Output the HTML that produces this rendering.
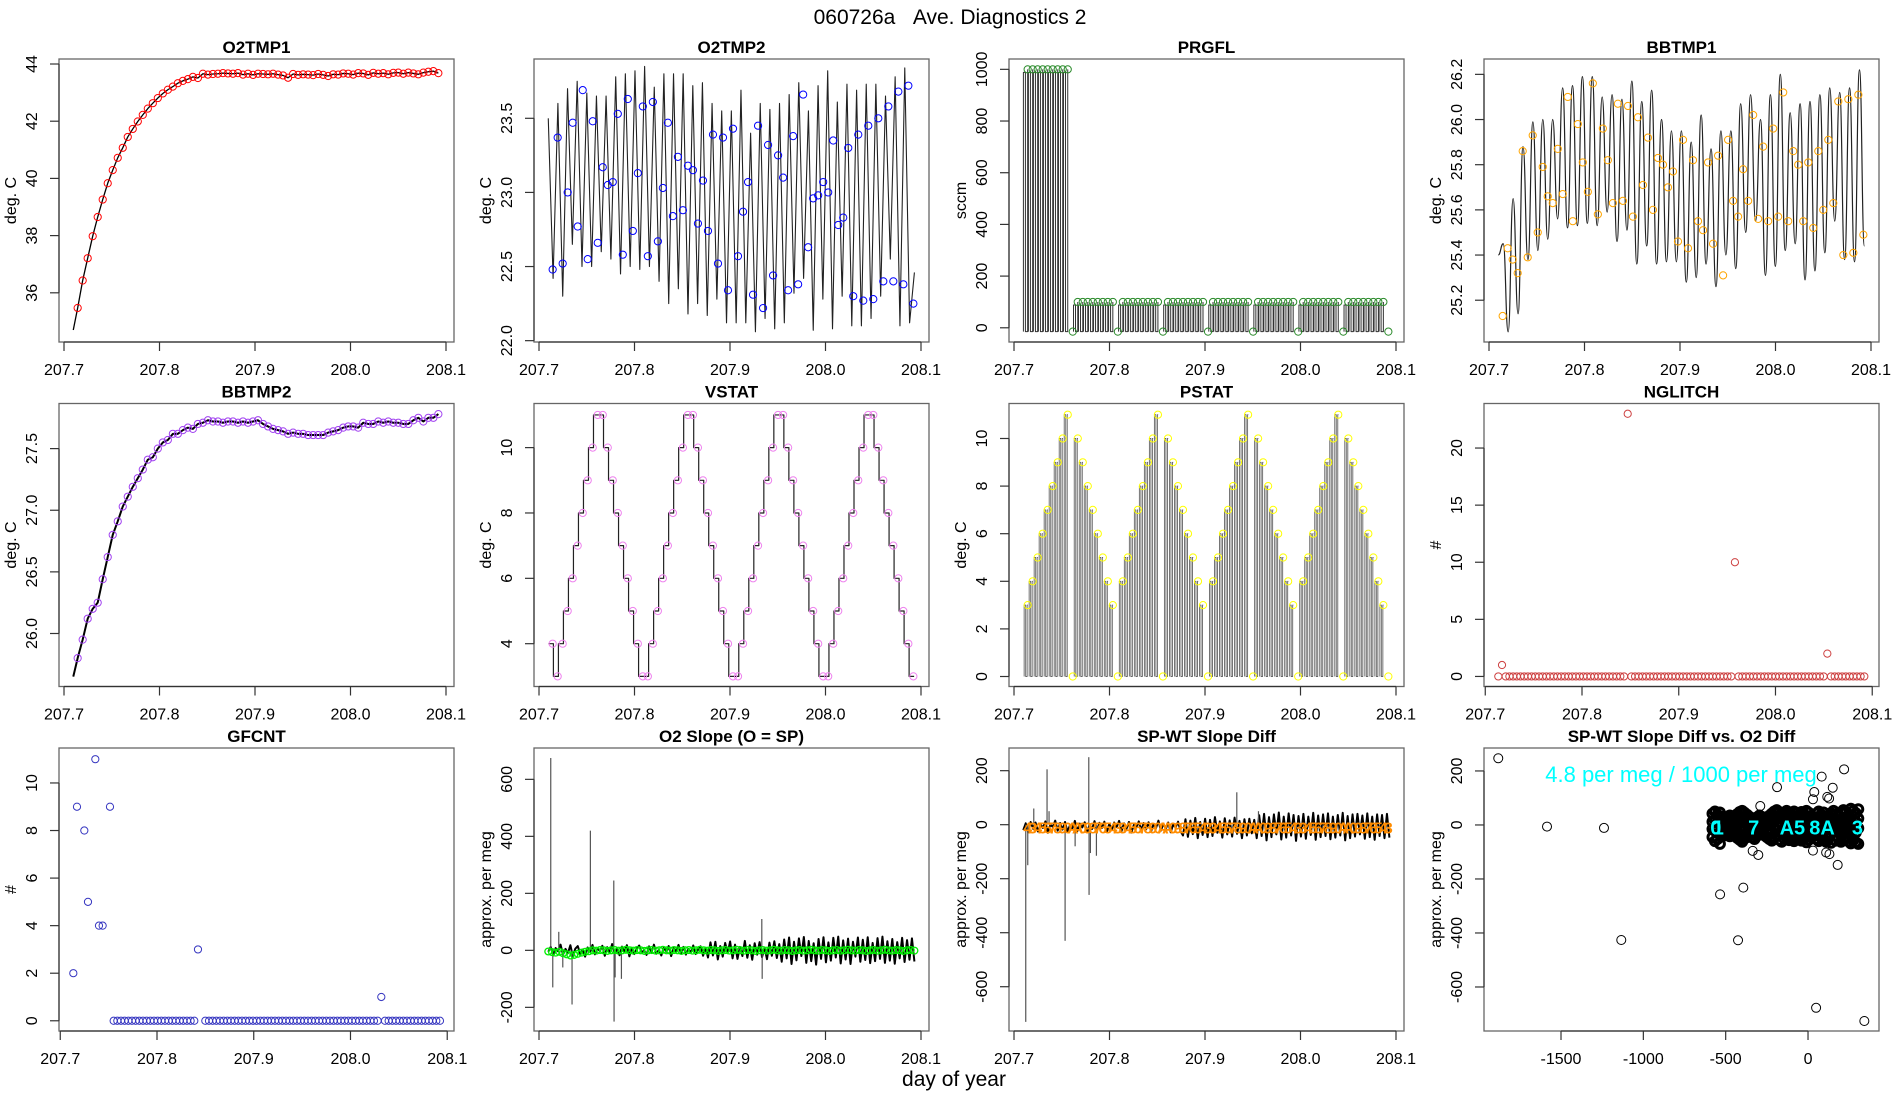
<!DOCTYPE html>
<html><head><meta charset="utf-8"><title>060726a Ave. Diagnostics 2</title>
<style>
html,body{margin:0;padding:0;background:#fff;}
svg{display:block;font-family:"Liberation Sans",Arial,sans-serif;}
</style></head>
<body>
<svg id="chart" xmlns="http://www.w3.org/2000/svg" width="1900" height="1100" viewBox="0 0 1900 1100">
<rect x="0" y="0" width="1900" height="1100" fill="#fff"/>
<text x="950" y="24" text-anchor="middle" font-size="21">060726a &#160;&#160;Ave. Diagnostics 2</text>
<text x="954" y="1086" text-anchor="middle" font-size="21">day of year</text>
</svg>
<script>
// ---- data ----
const T0 = 207.7143, DT = 0.005246;
const lineStart = [207.7097], lineEnd = [208.0931];
const dayTicks = [207.7, 207.8, 207.9, 208.0, 208.1];

const o2tmp1Vals = [35.47,36.43,37.21,37.98,38.65,39.26,39.83,40.29,40.72,41.07,41.45,41.73,41.99,42.22,42.44,42.63,42.81,42.97,43.10,43.21,43.33,43.41,43.47,43.55,43.51,43.66,
43.63,43.65,43.66,43.68,43.67,43.66,43.68,43.63,43.66,43.62,43.66,43.65,43.64,43.66,43.63,43.60,43.52,43.65,43.62,43.64,43.63,43.61,43.65,43.62,43.58,43.64,43.63,43.67,43.66,43.63,43.68,43.67,43.62,43.69,43.66,43.68,43.64,43.69,43.70,43.66,43.70,43.67,43.64,43.70,43.73,43.75,43.68];
const o2tmp1StartVal = [34.7];
const o2tmp1Ticks = [36,38,40,42,44];

const o2tmp2Vals = [22.48,23.37,22.52,23.0,23.47,22.77,23.69,22.55,23.48,22.66,23.17,23.05,23.07,23.53,22.58,23.63,22.74,23.13,23.58,22.57,
23.61,22.67,23.03,23.47,22.84,23.24,22.88,23.18,23.15,22.79,23.08,22.74,23.39,22.52,23.37,22.34,23.43,22.57,22.87,23.07,
22.31,23.45,22.22,23.32,22.44,23.25,23.10,22.34,23.38,22.38,23.66,22.63,22.96,22.98,23.07,23.0,23.35,22.78,22.83,23.30,
22.30,23.39,22.27,23.45,22.28,23.5,22.40,23.58,22.40,23.68,22.38,23.72,22.25];
const o2tmp2Line = [23.5,22.42,23.6,22.3,23.7,22.65,23.75,22.5,23.67,22.5,23.65,22.6,23.65,22.55,23.78,22.45,23.8,22.5,23.82,22.48,23.85,22.5,23.71,22.4,23.8,22.25,23.8,22.35,23.8,22.18,23.72,22.25,23.74,22.17,23.6,22.28,23.55,22.12,23.55,22.12,23.69,22.12,23.40,22.06,23.6,22.15,23.56,22.08,23.6,22.12,23.66,22.32,23.74,22.42,23.55,22.07,23.72,22.28,23.82,22.08,23.61,22.3,23.73,22.1,23.69,22.1,23.73,22.15,23.73,22.3,23.65,22.55,23.78,22.1,23.84,22.12,22.46];
const o2tmp2Ticks = [22.0,22.5,23.0,23.5];

const prgflVals = [1000,1000,1000,1000,1000,1000,1000,1000,1000,-15,
100,100,100,100,100,100,100,100,-15,100,100,100,100,100,100,100,100,-15,100,100,100,100,100,100,100,100,-15,
100,100,100,100,100,100,100,100,-15,100,100,100,100,100,100,100,100,-15,100,100,100,100,100,100,100,100,-15,
100,100,100,100,100,100,100,100,-15];
const prgflTicks = [0,200,400,600,800,1000];

const bbtmp1Vals = [25.13,25.43,25.38,25.32,25.86,25.39,25.93,25.50,25.79,25.66,25.63,25.87,25.67,26.10,25.55,25.98,25.81,25.68,26.16,25.58,
25.96,25.82,25.63,26.07,25.64,26.06,25.57,26.01,25.71,25.92,25.60,25.83,25.80,25.70,25.77,25.46,25.91,25.43,25.82,25.55,
25.51,25.81,25.45,25.84,25.31,25.91,25.64,25.57,25.78,25.64,26.02,25.56,25.88,25.55,25.96,25.57,26.12,25.55,25.86,25.80,
25.55,25.81,25.52,25.86,25.60,25.91,25.63,26.08,25.40,26.09,25.41,26.11,25.49];
const bbtmp1Line = [25.40,25.45,25.06,25.65,25.14,25.88,25.38,25.99,25.42,26.00,25.47,26.00,25.56,26.14,25.52,26.15,25.53,26.19,25.54,26.19,25.53,26.10,25.59,26.11,25.46,26.09,25.51,26.17,25.36,26.08,25.44,26.13,25.36,26.00,25.37,25.95,25.37,25.95,25.28,25.90,25.30,26.02,25.36,25.87,25.26,25.95,25.40,25.95,25.34,26.07,25.50,26.11,25.55,26.00,25.31,26.11,25.35,26.20,25.42,26.03,25.45,26.07,25.29,26.08,25.33,26.11,25.41,26.14,25.55,26.12,25.38,26.14,25.37,26.22,25.44];
const bbtmp1Ticks = [25.2,25.4,25.6,25.8,26.0,26.2];

const bbtmp2Vals = [25.80,25.95,26.12,26.20,26.25,26.44,26.62,26.80,26.91,27.03,27.11,27.19,27.26,27.33,27.41,27.43,27.50,27.55,27.57,27.62,
27.62,27.65,27.67,27.66,27.70,27.71,27.73,27.72,27.72,27.71,27.72,27.72,27.71,27.72,27.71,27.72,27.73,27.70,27.68,27.66,
27.65,27.64,27.62,27.63,27.62,27.62,27.61,27.61,27.61,27.61,27.63,27.64,27.65,27.67,27.68,27.68,27.67,27.71,27.70,27.70,
27.72,27.71,27.72,27.71,27.71,27.70,27.70,27.73,27.75,27.72,27.75,27.75,27.78];
const bbtmp2StartVal = [25.65];
const bbtmp2Ticks = [26.0,26.5,27.0,27.5];

const vstatVals = [4,3,4,5,6,7,8,9,10,11,11,10,9,8,7,6,5,4,3,3,4,5,6,7,8,9,10,11,11,10,9,8,7,6,5,4,3,3,
4,5,6,7,8,9,10,11,11,10,9,8,7,6,5,4,3,3,4,5,6,7,8,9,10,11,11,10,9,8,7,6,5,4,3];
const vstatTicks = [4,6,8,10];

const pstatVals = [3,4,5,6,7,8,9,10,11,0,10,9,8,7,6,5,4,3,0,4,5,6,7,8,9,10,11,0,10,9,8,7,6,5,4,3,0,
4,5,6,7,8,9,10,11,0,10,9,8,7,6,5,4,3,0,4,5,6,7,8,9,10,11,0,10,9,8,7,6,5,4,3,0];
const pstatTicks = [0,2,4,6,8,10];

const nglitchStart = [207.7135], nglitchEnd = [208.0918];
const nglitchVals = [0,1,0,0,0,0,0,0,0,0,0,0,0,0,0,0,0,0,0,0,0,0,0,0,0,0,0,0,0,0,0,0,0,0,0,23,
0,0,0,0,0,0,0,0,0,0,0,0,0,0,0,0,0,0,0,0,0,0,0,0,0,0,0,0,10,
0,0,0,0,0,0,0,0,0,0,0,0,0,0,0,0,0,0,0,0,0,0,0,0,2,0,0,0,0,0,0,0,0,0,0];
const nglitchTicks = [0,5,10,15,20];

const gfcntStart = [207.7135], gfcntEnd = [208.0925];
const gfcntVals = [2,9,null,8,5,null,11,4,4,null,9,
0,0,0,0,0,0,0,0,0,0,0,0,0,0,0,0,0,0,0,0,0,0,0,3,null,
0,0,0,0,0,0,0,0,0,0,0,0,0,0,0,0,0,0,0,0,0,0,0,0,0,0,0,0,0,0,0,0,0,0,0,0,0,0,0,0,0,0,0,0,0,0,0,0,1,
0,0,0,0,0,0,0,0,0,0,0,0,0,0,0,0];
const gfcntTicks = [0,2,4,6,8,10];

const o2slopeNoise = [-5,12,-18,8,-3,20,-15,5,-10,18,-20,6,15,-12,3,-22,10,-6,19,-14,7,-2,16,-19,11,-8,22,-11,4,-17,13,-4,18,-21,9,-13,6,17,-9,1,-16,14,-7,20,-12,2,-18,10,-5,15,-20,8,-3,19,-10,12,-15,5,-8,17,-13,3,14,-19,9,
-25,28,-18,30,-32,15,-22,26,-10,31,-28,20,-30,12,-20,33,-26,18,-33,25,-15,29,-24,10,-31,27,-19,32,-27,22,
-40,38,-28,45,-48,30,-35,42,-20,47,-44,33,-38,25,-50,40,-30,46,-42,28,-36,44,-25,48,-46,35,-32,41,-48,30,-22,45,-40,37,-34,46,-45,26,-38,43,-30,48,-44,32,-36,40,-47,29,-28,44,-41,36,-33,42,-39];
const o2slopeSpikeDays = [207.7123,207.7144,207.7207,207.7249,207.7346,207.7538,207.7783,207.7786,207.7797,207.7863,207.9333,207.9337];
const o2slopeSpikeVals = [675,-130,65,-60,-190,420,245,-250,-95,-100,110,-100];
const o2slopePts = [-4,-6,-8,-5,-10,-14,-18,-16,-12,-8,-5,-3,
0,-1,1,0,-2,0,1,-1,0,2,0,-1,1,0,-2,0,1,-1,0,2,0,-1,1,0,-2,0,1,-1,0,2,0,-1,1,0,-2,0,1,-1,0,2,
0,-1,1,0,-2,0,1,-1,0,2,0,-1,1,0,-2,0,1,-1,0,2,0,-1,1,0,-2,0,1,-1,0,2,0,-1,1,0,-2,0,1,-1,0,2,0,-1,1,0,-2,0,1,-1];
const o2slopeTicks = [-200,0,200,400,600];

const spwtNoise = [-20,5,-28,10,-15,8,-25,2,-12,12,-30,0,-8,15,-22,6,-18,10,-26,-2,-14,14,-24,4,-10,9,-28,1,-16,13,-21,7,-12,11,-27,3,-19,8,-9,14,-23,5,-15,10,-29,-1,-11,12,-20,6,-17,9,-25,2,-13,15,-22,4,-16,8,-28,0,-10,11,-24,
-40,20,-45,15,-35,25,-50,10,-38,22,-46,18,-42,28,-30,12,-48,24,-36,16,-44,26,-34,14,-50,20,-40,22,-32,18,
-50,35,-42,40,-58,28,-46,38,-36,45,-55,30,-48,42,-40,36,-60,32,-44,40,-52,30,-38,44,-56,34,-46,38,-42,42,-54,30,-48,36,-40,44,-58,32,-50,38,-44,40,-36,34,-52,42,-46,30,-56,38,-42,36,-50,40,-48];
const spwtSpikeDays = [207.7123,207.7144,207.7207,207.7346,207.7367,207.7535,207.7640,207.7783,207.7786,207.7800,207.7863,207.9333,207.9560];
const spwtSpikeVals = [-730,-150,60,205,50,-430,-80,250,-260,-105,-115,120,50];
const spwtLabels = ['4','3','4','5','6','7','8','9','0','A','A','0','9','8','7','6','5','4','3','3','4','5','6','7','8','9','0','A','A','0','9','8','7','6','5','4','3','3',
'4','5','6','7','8','9','0','A','A','0','9','8','7','6','5','4','3','3','4','5','6','7','8','9','0','A','A','0','9','8','7','6','5','4','3'];
const spwtLabelVal = [-10];
const spwtTicks = [-600,-400,-200,0,200];

const clusterX = [-580,-565,-550,-535,-520,-505,-490,-475,-460,-445,-430,-415,-400,-385,-370,-355,-340,-325,-310,-295,-280,-265,-250,-235,-220,-205,-190,-175,-160,-145,-130,-115,-100,-85,-70,-55,-40,-25,-10,5,20,35,50,65,80,95,110,125,140,155,170,185,200,215,230,245,260,275,290,305];
const clusterY1 = [42,50,38,46,30,25,28,35,22,30,40,48,52,45,38,30,25,20,28,35,30,22,26,34,42,50,55,48,40,44,52,46,38,50,44,36,48,40,52,45,34,28,42,50,38,46,30,36,44,52,40,34,46,55,48,38,60,52,44,58];
const clusterY2 = [12,20,8,15,5,10,18,3,12,8,15,22,10,18,5,14,20,8,12,16,4,10,18,22,6,14,20,10,24,16,8,18,12,22,6,14,20,10,16,24,8,12,18,6,20,14,10,22,16,4,18,12,20,8,14,22,10,18,12,24];
const clusterY3 = [-15,-22,-8,-28,-12,-18,-5,-20,-14,-10,-25,-16,-8,-22,-30,-12,-18,-26,-10,-20,-14,-6,-24,-16,-28,-12,-20,-8,-22,-15,-26,-10,-18,-24,-12,-20,-28,-16,-8,-22,-14,-26,-10,-18,-24,-12,-20,-30,-16,-8,-22,-14,-26,-18,-10,-24,-16,-20,-28,-12];
const clusterY4 = [-45,-60,-52,-70,-40,-38,-35,-42,-30,-36,-48,-55,-62,-50,-44,-38,-46,-52,-40,-36,-32,-38,-45,-52,-58,-48,-40,-55,-62,-50,-44,-56,-48,-60,-52,-45,-58,-50,-64,-55,-46,-40,-52,-60,-48,-56,-62,-50,-66,-54,-58,-46,-62,-55,-50,-60,-68,-56,-64,-70];
const outlierX = [-1881,-1585,-1239,-1134,-534,-393,-425,49,342,219,83,-188,150,38,30,117,128,-290,-336,-302,180,110,130,30];
const outlierY = [247,-6,-11,-426,-257,-232,-427,-677,-726,206,179,140,138,122,95,104,98,70,-96,-111,-148,-102,-108,-95];
const cyanLabels = ['0','1','7','A5','8A','3'];
const cyanLabelX = [-560,-545,-330,-95,85,300];
const cyanLabelY = [-10,-10,-10,-10,-10,-10];
const scatterXTicks = [-1500,-1000,-500,0];
const scatterYTicks = [-600,-400,-200,0,200];

// ---- drawing ----
const NS = 'http://www.w3.org/2000/svg';
const svg = document.getElementById('chart');
function mk(tag, parent) { const e = document.createElementNS(NS, tag); (parent || svg).appendChild(e); return e; }
function setA(e, o) { for (const k in o) e.setAttribute(k, o[k]); }
const DOM_A = [207.69476, 208.10838], DOM_B = [207.6987, 208.1070];
const W = 395, H = 283;
function tday(i) { return T0 + i * DT; }
function spread(a, b, n, i) { return a + (b - a) * i / (n - 1); }

function panel(col, row, name, title, ylab, xd, yd, xticks, yticks, xfmt, yfmt) {
  const bx = 59 + 475 * col, by = [59, 403.5, 748][row];
  const g = mk('g');
  
  
  const X = v => bx + (v - xd[0]) / (xd[1] - xd[0]) * W;
  const Y = v => by + (yd[1] - v) / (yd[1] - yd[0]) * H;
  const box = mk('rect', g);
  setA(box, {x: bx, y: by, width: W, height: H, fill: 'none', stroke: '#666', 'stroke-width': 1.3});
  
  
  const t = mk('text', g);
  setA(t, {x: bx + W / 2, y: by - 6, 'text-anchor': 'middle', 'font-size': 17, 'font-weight': 'bold'});
  t.textContent = title;
  
  
  const yl = mk('text', g);
  setA(yl, {transform: `translate(${bx - 43},${by + H / 2}) rotate(-90)`, 'text-anchor': 'middle', 'font-size': 16});
  yl.textContent = ylab;
  
  
  const ax = mk('g', g);
  
  
  const xl = mk('line', ax);
  setA(xl, {x1: X(xticks[0]), x2: X(xticks[xticks.length - 1]), y1: by + H, y2: by + H, stroke: '#333', 'stroke-width': 1.2});
  xticks.forEach(v => {
    const tk = mk('line', ax);
    setA(tk, {x1: X(v), x2: X(v), y1: by + H, y2: by + H + 9, stroke: '#333', 'stroke-width': 1.2});
    
    
    const lb = mk('text', ax);
    setA(lb, {x: X(v), y: by + H + 33, 'text-anchor': 'middle', 'font-size': 16});
    lb.textContent = xfmt(v);
    
    
  });
  const ay = mk('g', g);
  
  
  const yline = mk('line', ay);
  setA(yline, {x1: bx, x2: bx, y1: Y(yticks[0]), y2: Y(yticks[yticks.length - 1]), stroke: '#333', 'stroke-width': 1.2});
  yticks.forEach(v => {
    const tk = mk('line', ay);
    setA(tk, {x1: bx - 9, x2: bx, y1: Y(v), y2: Y(v), stroke: '#333', 'stroke-width': 1.2});
    
    
    const lb = mk('text', ay);
    setA(lb, {transform: `translate(${bx - 22},${Y(v)}) rotate(-90)`, 'text-anchor': 'middle', 'font-size': 16});
    lb.textContent = yfmt(v);
    
    
  });
  const data = mk('g', g);
  
  
  return {g: data, X, Y};
}
const f1 = v => v.toFixed(1), f0 = v => String(v);

function polyline(p, pts, color, w, name) {
  const e = mk('polyline', p.g);
  setA(e, {points: pts.map(q => q[0].toFixed(2) + ',' + q[1].toFixed(2)).join(' '), fill: 'none', stroke: color, 'stroke-width': w, 'stroke-linejoin': 'round'});
  
  
  return e;
}
function circles(p, xs, ys, color, name, r, sw) {
  for (let i = 0; i < ys.length; i++) {
    if (ys[i] === null) continue;
    const c = mk('circle', p.g);
    setA(c, {cx: p.X(xs[i]).toFixed(2), cy: p.Y(ys[i]).toFixed(2), r: r || 3.6, fill: 'none', stroke: color, 'stroke-width': sw || 1});
    
    
  }
}
function days73(n) { const a = []; for (let i = 0; i < n; i++) a.push(tday(i)); return a; }
function spreadDays(a, b, n) { const r = []; for (let i = 0; i < n; i++) r.push(spread(a, b, n, i)); return r; }

// O2TMP1
{
  const p = panel(0, 0, 'o2tmp1', 'O2TMP1', 'deg. C', DOM_A, [34.28, 44.175], dayTicks, o2tmp1Ticks, f1, f0);
  const d = days73(o2tmp1Vals.length);
  const pts = [[p.X(lineStart[0]), p.Y(o2tmp1StartVal[0])]].concat(o2tmp1Vals.map((v, i) => [p.X(d[i]), p.Y(v)]));
  polyline(p, pts, '#000', 1.3, 'o2tmp1-line');
  circles(p, d, o2tmp1Vals, '#ff0000', 'o2tmp1-point');
}
// O2TMP2
{
  const p = panel(1, 0, 'o2tmp2', 'O2TMP2', 'deg. C', DOM_A, [21.991, 23.9], dayTicks, o2tmp2Ticks, f1, f1);
  const ld = spreadDays(lineStart[0], lineEnd[0], o2tmp2Line.length);
  polyline(p, o2tmp2Line.map((v, i) => [p.X(ld[i]), p.Y(v)]), '#222', 1.1, 'o2tmp2-line');
  circles(p, days73(o2tmp2Vals.length), o2tmp2Vals, '#0000ff', 'o2tmp2-point');
}
// PRGFL
{
  const p = panel(2, 0, 'prgfl', 'PRGFL', 'sccm', DOM_A, [-55, 1040], dayTicks, prgflTicks, f1, f0);
  const d = days73(prgflVals.length);
  const base = -15;
  for (let i = 0; i < prgflVals.length; i++) {
    const v = prgflVals[i];
    if (v <= base) continue;
    const x = p.X(d[i]), step = p.X(d[0] + DT) - p.X(d[0]);
    const pts = [[x - step * 0.85, p.Y(base)], [x - step * 0.85, p.Y(v) + 3], [x - step * 0.45, p.Y(v) + 3], [x - step * 0.45, p.Y(base)], [x, p.Y(base)], [x, p.Y(v)]];
    polyline(p, pts, '#333', 1, 'prgfl-line-segment');
  }
  circles(p, d, prgflVals, '#2a8a2a', 'prgfl-point');
}
// BBTMP1
{
  const p = panel(3, 0, 'bbtmp1', 'BBTMP1', 'deg. C', DOM_A, [25.015, 26.268], dayTicks, bbtmp1Ticks, f1, f1);
  const ld = spreadDays(lineStart[0], lineEnd[0], bbtmp1Line.length);
  let dstr = 'M' + p.X(ld[0]).toFixed(2) + ',' + p.Y(bbtmp1Line[0]).toFixed(2);
  for (let i = 1; i < bbtmp1Line.length; i++) {
    const x0 = p.X(ld[i - 1]), x1 = p.X(ld[i]), y0 = p.Y(bbtmp1Line[i - 1]), y1 = p.Y(bbtmp1Line[i]), xm = (x0 + x1) / 2;
    dstr += ` C${xm.toFixed(2)},${y0.toFixed(2)} ${xm.toFixed(2)},${y1.toFixed(2)} ${x1.toFixed(2)},${y1.toFixed(2)}`;
  }
  const path = mk('path', p.g);
  setA(path, {d: dstr, fill: 'none', stroke: '#222', 'stroke-width': 1.2});
  
  
  circles(p, days73(bbtmp1Vals.length), bbtmp1Vals, '#ffa500', 'bbtmp1-point');
}
// BBTMP2
{
  const p = panel(0, 1, 'bbtmp2', 'BBTMP2', 'deg. C', DOM_A, [25.57, 27.866], dayTicks, bbtmp2Ticks, f1, f1);
  const d = days73(bbtmp2Vals.length);
  const pts = [[p.X(lineStart[0]), p.Y(bbtmp2StartVal[0])]].concat(bbtmp2Vals.map((v, i) => [p.X(d[i]), p.Y(v)]));
  polyline(p, pts, '#000', 2, 'bbtmp2-line');
  circles(p, d, bbtmp2Vals, '#a040f0', 'bbtmp2-point');
}
// VSTAT
{
  const p = panel(1, 1, 'vstat', 'VSTAT', 'deg. C', DOM_A, [2.69, 11.35], dayTicks, vstatTicks, f1, f0);
  const d = days73(vstatVals.length);
  const step = p.X(d[0] + DT) - p.X(d[0]);
  const pts = [];
  for (let i = 0; i < vstatVals.length; i++) {
    const x = p.X(d[i]), y = p.Y(vstatVals[i]);
    pts.push([x - step * 0.85, y], [x + step * 0.15, y]);
  }
  polyline(p, pts, '#222', 1.2, 'vstat-step-line');
  circles(p, d, vstatVals, '#ee82ee', 'vstat-point');
}
// PSTAT
{
  const p = panel(2, 1, 'pstat', 'PSTAT', 'deg. C', DOM_A, [-0.42, 11.47], dayTicks, pstatTicks, f1, f0);
  const d = days73(pstatVals.length);
  const step = p.X(d[0] + DT) - p.X(d[0]);
  for (let i = 0; i < pstatVals.length; i++) {
    const v = pstatVals[i];
    if (v <= 0) continue;
    const x = p.X(d[i]), y = p.Y(v), y0 = p.Y(0);
    const pts = [[x - step * 0.7, y0], [x - step * 0.7, y], [x - step * 0.4, y], [x - step * 0.4, y0], [x - step * 0.1, y0], [x - step * 0.1, y], [x + step * 0.05, y]];
    polyline(p, pts, '#666', 0.9, 'pstat-bar-lines');
  }
  circles(p, d, pstatVals, '#ffff00', 'pstat-point');
}
// NGLITCH
{
  const p = panel(3, 1, 'nglitch', 'NGLITCH', '#', DOM_B, [-0.88, 23.9], dayTicks, nglitchTicks, f1, f0);
  circles(p, spreadDays(nglitchStart[0], nglitchEnd[0], nglitchVals.length), nglitchVals, '#cd4040', 'nglitch-point');
}
// GFCNT
{
  const p = panel(0, 2, 'gfcnt', 'GFCNT', '#', DOM_B, [-0.43, 11.47], dayTicks, gfcntTicks, f1, f0);
  circles(p, spreadDays(gfcntStart[0], gfcntEnd[0], gfcntVals.length), gfcntVals, '#3535c0', 'gfcnt-point');
}
// O2 Slope
{
  const p = panel(1, 2, 'o2-slope', 'O2 Slope (O = SP)', 'approx. per meg', DOM_A, [-283, 710], dayTicks, o2slopeTicks, f1, f0);
  const nd = spreadDays(lineStart[0], lineEnd[0], o2slopeNoise.length);
  polyline(p, o2slopeNoise.map((v, i) => [p.X(nd[i]), p.Y(v)]), '#000', 2, 'o2-slope-line');
  o2slopeSpikeDays.forEach((dd, i) => {
    const l = mk('line', p.g);
    setA(l, {x1: p.X(dd), x2: p.X(dd), y1: p.Y(0), y2: p.Y(o2slopeSpikeVals[i]), stroke: '#555', 'stroke-width': 1.2});
    
    
  });
  circles(p, spreadDays(lineStart[0], lineEnd[0], o2slopePts.length), o2slopePts, '#00ee00', 'o2-slope-point', 3.4, 1.3);
}
// SP-WT Slope Diff
{
  const p = panel(2, 2, 'spwt-slope-diff', 'SP-WT Slope Diff', 'approx. per meg', DOM_A, [-764, 284], dayTicks, spwtTicks, f1, f0);
  const nd = spreadDays(lineStart[0], lineEnd[0], spwtNoise.length);
  polyline(p, spwtNoise.map((v, i) => [p.X(nd[i]), p.Y(v)]), '#000', 2, 'spwt-line');
  spwtSpikeDays.forEach((dd, i) => {
    const l = mk('line', p.g);
    setA(l, {x1: p.X(dd), x2: p.X(dd), y1: p.Y(0), y2: p.Y(spwtSpikeVals[i]), stroke: '#555', 'stroke-width': 1.2});
    
    
  });
  spwtLabels.forEach((s, i) => {
    const t = mk('text', p.g);
    setA(t, {x: p.X(tday(i)), y: p.Y(spwtLabelVal[0]) + 6, 'text-anchor': 'middle', 'font-size': 16, 'font-weight': 'bold', fill: '#ff8c00'});
    t.textContent = s;
    
    
  });
}
// Scatter
{
  const p = panel(3, 2, 'spwt-vs-o2', 'SP-WT Slope Diff vs. O2 Diff', 'approx. per meg', [-1967.6, 431], [-763, 285], scatterXTicks, scatterYTicks, f0, f0);
  [clusterY1, clusterY2, clusterY3, clusterY4].forEach(ys => circles(p, clusterX, ys, '#000', 'scatter-point', 4.5, 3));
  circles(p, outlierX, outlierY, '#000', 'scatter-outlier', 4.5, 1);
  cyanLabels.forEach((s, i) => {
    const t = mk('text', p.g);
    setA(t, {x: p.X(cyanLabelX[i]), y: p.Y(cyanLabelY[i]) + 7, 'text-anchor': 'middle', 'font-size': 20, 'font-weight': 'bold', fill: '#00ffff'});
    t.textContent = s;
    
    
  });
  const ann = mk('text', p.g);
  setA(ann, {x: 1681, y: 782, 'text-anchor': 'middle', 'font-size': 22, fill: '#00ffff'});
  ann.textContent = '4.8 per meg / 1000 per meg';
  
  
}
</script>
</body></html>
